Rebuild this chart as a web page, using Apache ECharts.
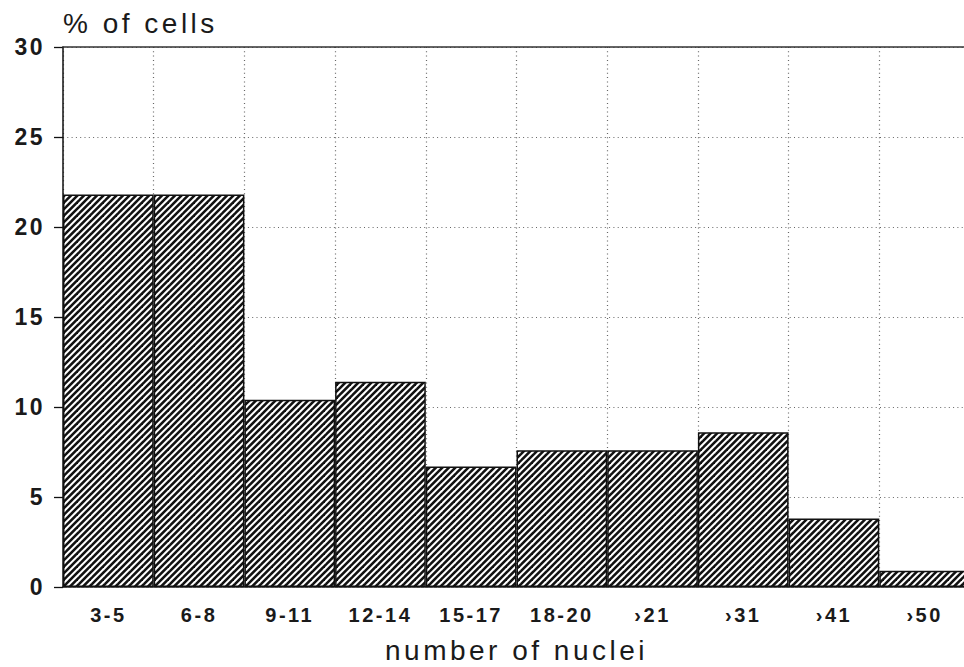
<!DOCTYPE html>
<html><head><meta charset="utf-8">
<script src="https://cdn.jsdelivr.net/npm/echarts@6/dist/echarts.min.js"></script>
<style>
html,body{margin:0;padding:0;background:#fff;}
#chart{width:964px;height:667px;}
#chart text{letter-spacing:2.5px;}
#chart text[style*="28px"], #chart text[font-size="28px"], #chart text[font-size="28"]{letter-spacing:3.5px;}
</style></head><body><div id="chart"></div>
<script>
const categories = ['3-5', '6-8', '9-11', '12-14', '15-17', '18-20', '\u203A21', '\u203A31', '\u203A41', '\u203A50'];
const values = [21.8, 21.8, 10.4, 11.4, 6.7, 7.6, 7.6, 8.6, 3.8, 0.9];
const yMin = 0, yMax = 30, yStep = 5;
const xName = 'number of nuclei';
const yName = '% of cells';

function hatch() {
  const s = 13, c = document.createElement('canvas');
  c.width = s; c.height = s;
  const g = c.getContext('2d');
  g.fillStyle = '#fff'; g.fillRect(0, 0, s, s);
  g.strokeStyle = '#111'; g.lineWidth = 2.6;
  for (const k of [0, 6.5, 13, 19.5, 26]) {
    g.beginPath(); g.moveTo(k - 15, 15); g.lineTo(k + 2, -2); g.stroke();
  }
  return c;
}

const font = '"Liberation Sans", Arial, Helvetica, sans-serif';
const txt = '#1a1a1a';
const dotted = { color: '#666', type: [1, 3.3], width: 1.2 };

const chart = echarts.init(document.getElementById('chart'), null, { renderer: 'svg' });
chart.setOption({
  animation: false,
  backgroundColor: '#fff',
  grid: { left: 63, top: 47, right: -6, bottom: 80, containLabel: false, outerBoundsMode: 'none' },
  xAxis: [{
    type: 'category', data: categories, boundaryGap: true, z: 0,
    axisLine: { show: true, lineStyle: { color: '#111', width: 1.5 } },
    axisTick: { show: false },
    axisLabel: { interval: 0, margin: 18, fontSize: 20, fontWeight: 'bold', color: txt, fontFamily: font },
    splitLine: { show: true, interval: 0, lineStyle: dotted },
    name: xName, nameLocation: 'middle', nameGap: 49,
    nameTextStyle: { fontSize: 28, color: txt, fontFamily: font }
  }, {
    type: 'category', data: categories, position: 'top', z: 1.5,
    axisLine: { show: true, lineStyle: { color: '#333', width: 1.5 } },
    axisTick: { show: false }, axisLabel: { show: false }, splitLine: { show: false }
  }],
  yAxis: {
    type: 'value', min: yMin, max: yMax, interval: yStep, z: 1,
    axisLine: { show: true, lineStyle: { color: '#111', width: 1.5 } },
    axisTick: { show: true, length: 9, lineStyle: { color: '#111', width: 1.3 } },
    axisLabel: { margin: 18, fontSize: 23, fontWeight: 'bold', color: txt, fontFamily: font },
    splitLine: { show: true, lineStyle: dotted },
    name: yName, nameLocation: 'end', nameGap: 10,
    nameTextStyle: { align: 'left', fontSize: 28, color: txt, fontFamily: font }
  },
  series: [{
    type: 'bar', data: values, barCategoryGap: '0%', z: 2,
    itemStyle: { color: { image: hatch(), repeat: 'repeat' }, borderColor: '#111', borderWidth: 1.5 },
    emphasis: { disabled: true }
  }]
});
</script></body></html>
